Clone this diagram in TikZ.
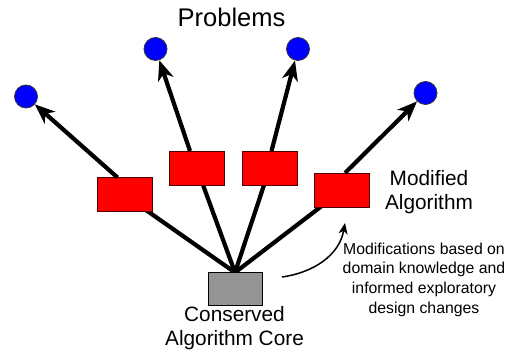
\documentclass[tikz,border=0pt]{standalone}
\usepackage{fontspec}
\setmainfont{Liberation Sans}
\usetikzlibrary{arrows.meta, backgrounds}

\begin{document}
\begin{tikzpicture}[x=1pt, y=1pt,
  problem/.style={circle, draw=black!80, line width=0.8pt, fill=blue, minimum size=23pt, inner sep=0pt},
  modbox/.style={rectangle, draw=black!70!red, line width=1pt, fill=red, minimum width=55pt, minimum height=34pt, inner sep=0pt},
  corebox/.style={rectangle, draw=black, line width=1pt, fill=black!42, minimum width=54pt, minimum height=33pt, inner sep=0pt},
  link/.style={line width=4.2pt},
  goal/.style={line width=4.2pt, -{Stealth[length=20pt, width=16pt, inset=6pt]}},
  bigtext/.style={font=\fontsize{20.8pt}{24.5pt}\selectfont, align=center, inner sep=0pt},
  smalltext/.style={font=\fontsize{15.8pt}{19.7pt}\selectfont, align=center, inner sep=0pt}]

\useasboundingbox (0, 0) rectangle (531, 353);

\node (r1)[modbox] at (124.5, 158) {};
\node (r2)[modbox] at (197, 184.5) {};
\node (r3)[modbox] at (269.5, 184.5) {};
\node (r4)[modbox] at (342, 162.5) {};

\node (core)[corebox] at (235, 63.5) {};

\node (c1)[problem] at (26, 256.5) {};
\node (c2)[problem] at (155.5, 304) {};
\node (c3)[problem] at (298, 304) {};
\node (c4)[problem] at (425.5, 260) {};

% links from the core sit behind the boxes
\begin{pgfonlayer}{background}
\draw[link] (core.north) -- (r1.center);
\draw[link] (core.north) -- (r2.center);
\draw[link] (core.north) -- (r3.center);
\draw[link] (core.north) -- (r4.center);
\end{pgfonlayer}

\draw[goal] ([xshift=-7pt]r1.north) -- (c1);
\draw[goal] ([xshift=-7pt]r2.north) -- (c2);
\draw[goal] ([xshift=2pt]r3.north) -- (c3);
\draw[goal] ([xshift=3pt]r4.north) -- (c4);

\node (problems)[bigtext, font=\fontsize{25.5pt}{30pt}\selectfont, anchor=base] at (231.5, 326) {Problems};
\node (modified)[bigtext, anchor=base] at (429, 143) {Modified\\Algorithm};
\node (conserved)[bigtext, anchor=base] at (234.5, 7.3) {Conserved\\Algorithm Core};
\node (note)[smalltext, anchor=base] at (424, 39.7) {Modifications based on\\domain knowledge and\\informed exploratory\\design changes};

\coordinate (bendstart) at (282, 76);
\coordinate (bendtip) at (345, 130);
\draw[line width=1.5pt, -{Stealth[length=11pt, width=9pt, inset=3pt]}] (bendstart) to[out=8, in=-100] (bendtip);

\end{tikzpicture}
\end{document}
